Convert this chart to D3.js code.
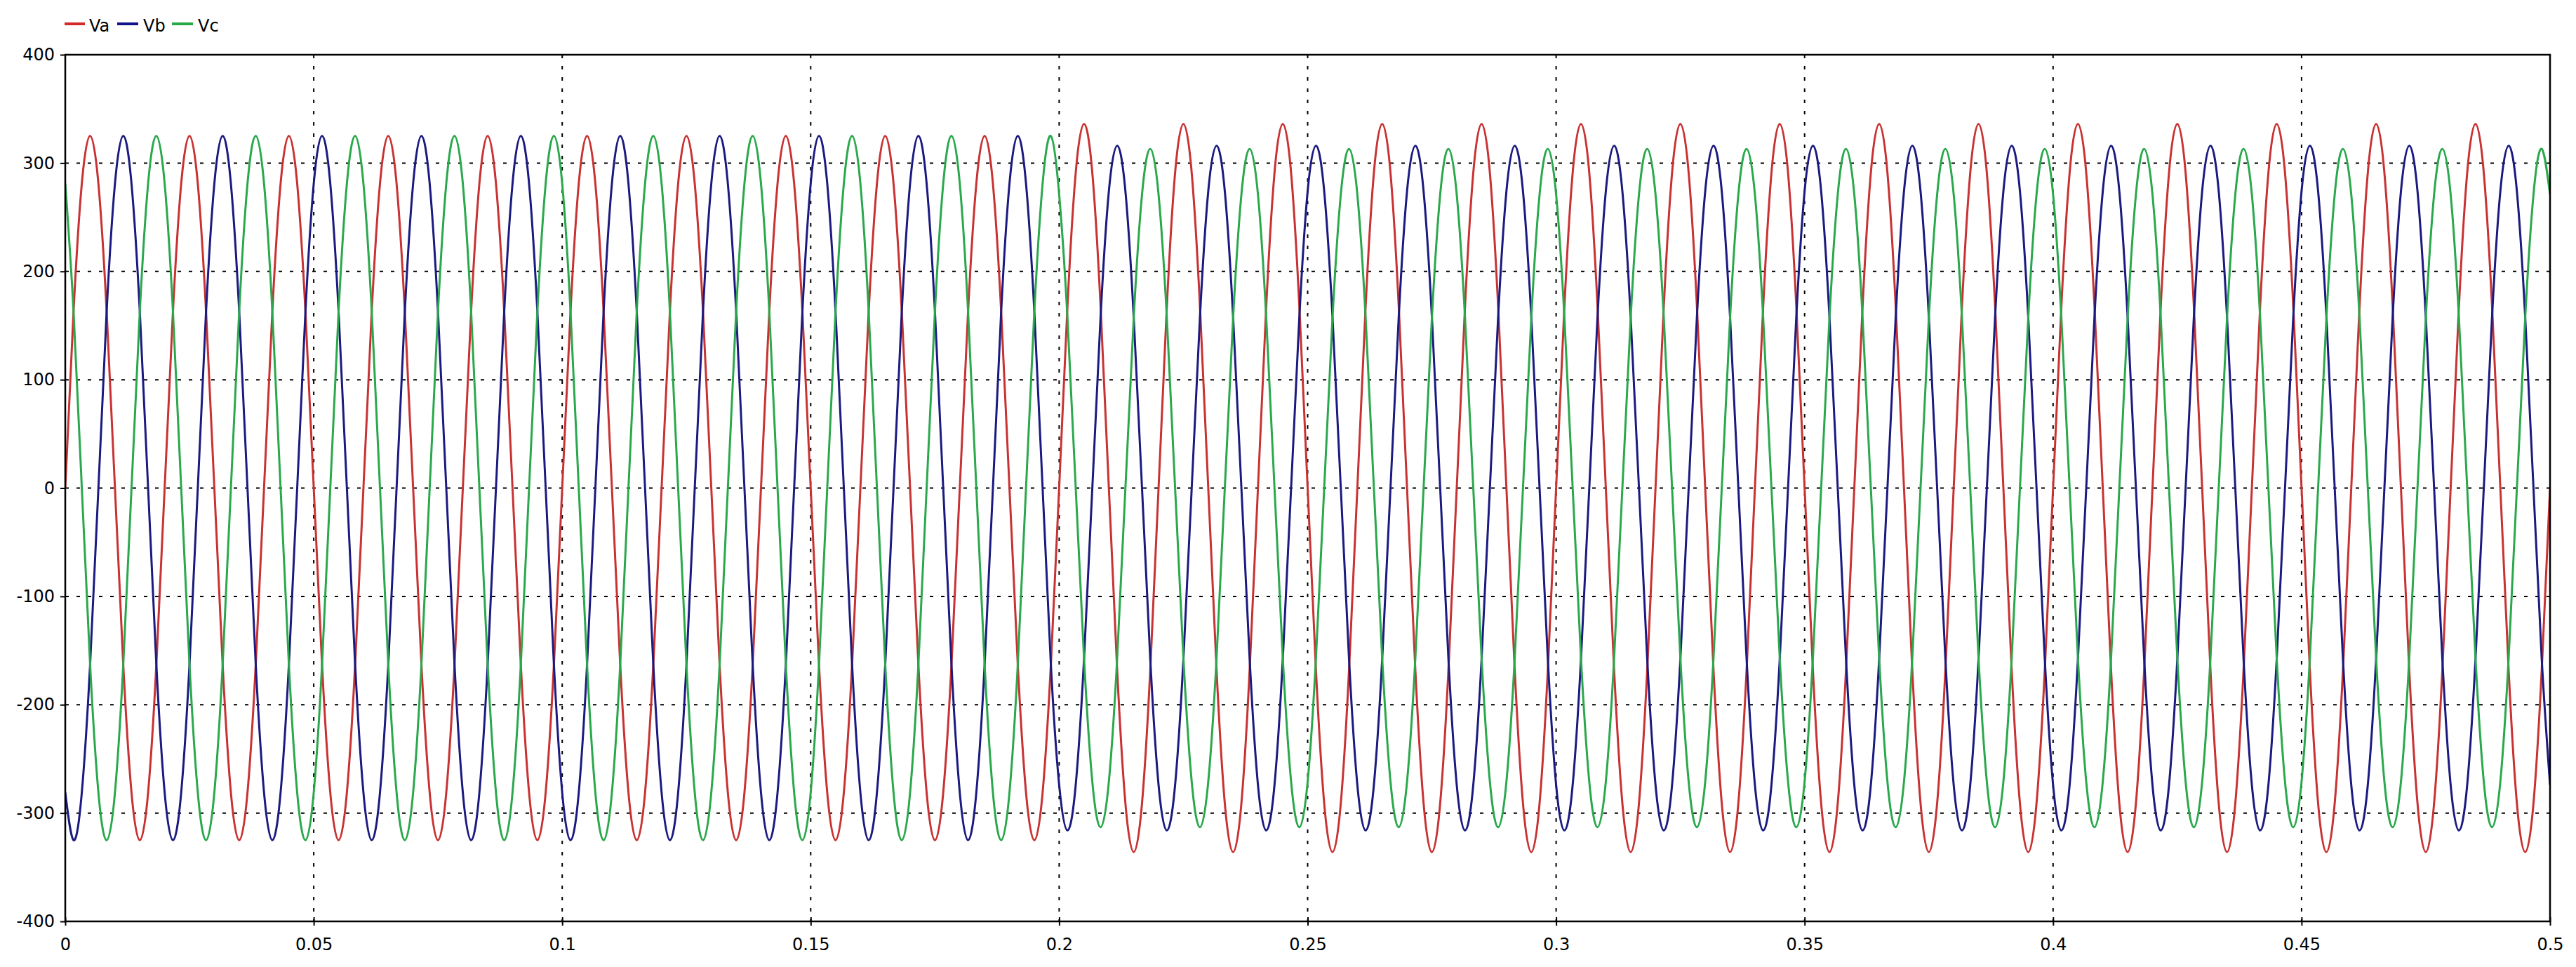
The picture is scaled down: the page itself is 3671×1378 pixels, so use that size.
<!DOCTYPE html>
<html>
<head>
<meta charset="utf-8">
<script src="https://cdn.jsdelivr.net/npm/d3@7"></script>
<style>
  html, body { margin: 0; padding: 0; background: #ffffff; }
  svg { display: block; }
  text { font-family: "DejaVu Sans", sans-serif; }
</style>
</head>
<body>
<svg id="chart" width="3671" height="1378"></svg>
<script>
// ---------------- DATA ----------------
const seriesNames = ["Va", "Vb", "Vc"];

// sample times (ms)
const timeMs = [
  0,1.67,3.33,5,6.67,8.33,10,11.67,13.33,15,16.67,18.33,
  20,21.67,23.33,25,26.67,28.33,30,31.67,33.33,35,36.67,38.33,
  40,41.67,43.33,45,46.67,48.33,50,51.67,53.33,55,56.67,58.33,
  60,61.67,63.33,65,66.67,68.33,70,71.67,73.33,75,76.67,78.33,
  80,81.67,83.33,85,86.67,88.33,90,91.67,93.33,95,96.67,98.33,
  100,101.67,103.33,105,106.67,108.33,110,111.67,113.33,115,116.67,118.33,
  120,121.67,123.33,125,126.67,128.33,130,131.67,133.33,135,136.67,138.33,
  140,141.67,143.33,145,146.67,148.33,150,151.67,153.33,155,156.67,158.33,
  160,161.67,163.33,165,166.67,168.33,170,171.67,173.33,175,176.67,178.33,
  180,181.67,183.33,185,186.67,188.33,190,191.67,193.33,195,196.67,198.33,
  200,201.67,203.33,205,206.67,208.33,210,211.67,213.33,215,216.67,218.33,
  220,221.67,223.33,225,226.67,228.33,230,231.67,233.33,235,236.67,238.33,
  240,241.67,243.33,245,246.67,248.33,250,251.67,253.33,255,256.67,258.33,
  260,261.67,263.33,265,266.67,268.33,270,271.67,273.33,275,276.67,278.33,
  280,281.67,283.33,285,286.67,288.33,290,291.67,293.33,295,296.67,298.33,
  300,301.67,303.33,305,306.67,308.33,310,311.67,313.33,315,316.67,318.33,
  320,321.67,323.33,325,326.67,328.33,330,331.67,333.33,335,336.67,338.33,
  340,341.67,343.33,345,346.67,348.33,350,351.67,353.33,355,356.67,358.33,
  360,361.67,363.33,365,366.67,368.33,370,371.67,373.33,375,376.67,378.33,
  380,381.67,383.33,385,386.67,388.33,390,391.67,393.33,395,396.67,398.33,
  400,401.67,403.33,405,406.67,408.33,410,411.67,413.33,415,416.67,418.33,
  420,421.67,423.33,425,426.67,428.33,430,431.67,433.33,435,436.67,438.33,
  440,441.67,443.33,445,446.67,448.33,450,451.67,453.33,455,456.67,458.33,
  460,461.67,463.33,465,466.67,468.33,470,471.67,473.33,475,476.67,478.33,
  480,481.67,483.33,485,486.67,488.33,490,491.67,493.33,495,496.67,498.33,
  500
];

const va = [
  0,163,281,325,281,163,0,-163,-281,-325,-281,-163,
  0,163,281,325,281,163,0,-163,-281,-325,-281,-163,
  0,163,281,325,281,163,0,-163,-281,-325,-281,-163,
  0,163,281,325,281,163,0,-163,-281,-325,-281,-163,
  0,163,281,325,281,163,0,-163,-281,-325,-281,-163,
  0,163,281,325,281,163,0,-163,-281,-325,-281,-163,
  0,163,281,325,281,163,0,-163,-281,-325,-281,-163,
  0,163,281,325,281,163,0,-163,-281,-325,-281,-163,
  0,163,281,325,281,163,0,-163,-281,-325,-281,-163,
  0,163,281,325,281,163,0,-163,-281,-325,-281,-163,
  0,168,291,336,291,168,0,-168,-291,-336,-291,-168,
  0,168,291,336,291,168,0,-168,-291,-336,-291,-168,
  0,168,291,336,291,168,0,-168,-291,-336,-291,-168,
  0,168,291,336,291,168,0,-168,-291,-336,-291,-168,
  0,168,291,336,291,168,0,-168,-291,-336,-291,-168,
  0,168,291,336,291,168,0,-168,-291,-336,-291,-168,
  0,168,291,336,291,168,0,-168,-291,-336,-291,-168,
  0,168,291,336,291,168,0,-168,-291,-336,-291,-168,
  0,168,291,336,291,168,0,-168,-291,-336,-291,-168,
  0,168,291,336,291,168,0,-168,-291,-336,-291,-168,
  0,168,291,336,291,168,0,-168,-291,-336,-291,-168,
  0,168,291,336,291,168,0,-168,-291,-336,-291,-168,
  0,168,291,336,291,168,0,-168,-291,-336,-291,-168,
  0,168,291,336,291,168,0,-168,-291,-336,-291,-168,
  0,168,291,336,291,168,0,-168,-291,-336,-291,-168,
  0
];

const vb = [
  -281,-325,-281,-163,0,163,281,325,281,163,0,-163,
  -281,-325,-281,-163,0,163,281,325,281,163,0,-163,
  -281,-325,-281,-163,0,163,281,325,281,163,0,-163,
  -281,-325,-281,-163,0,163,281,325,281,163,0,-163,
  -281,-325,-281,-163,0,163,281,325,281,163,0,-163,
  -281,-325,-281,-163,0,163,281,325,281,163,0,-163,
  -281,-325,-281,-163,0,163,281,325,281,163,0,-163,
  -281,-325,-281,-163,0,163,281,325,281,163,0,-163,
  -281,-325,-281,-163,0,163,281,325,281,163,0,-163,
  -281,-325,-281,-163,0,163,281,325,281,163,0,-163,
  -274,-316,-274,-158,0,158,274,316,274,158,0,-158,
  -274,-316,-274,-158,0,158,274,316,274,158,0,-158,
  -274,-316,-274,-158,0,158,274,316,274,158,0,-158,
  -274,-316,-274,-158,0,158,274,316,274,158,0,-158,
  -274,-316,-274,-158,0,158,274,316,274,158,0,-158,
  -274,-316,-274,-158,0,158,274,316,274,158,0,-158,
  -274,-316,-274,-158,0,158,274,316,274,158,0,-158,
  -274,-316,-274,-158,0,158,274,316,274,158,0,-158,
  -274,-316,-274,-158,0,158,274,316,274,158,0,-158,
  -274,-316,-274,-158,0,158,274,316,274,158,0,-158,
  -274,-316,-274,-158,0,158,274,316,274,158,0,-158,
  -274,-316,-274,-158,0,158,274,316,274,158,0,-158,
  -274,-316,-274,-158,0,158,274,316,274,158,0,-158,
  -274,-316,-274,-158,0,158,274,316,274,158,0,-158,
  -274,-316,-274,-158,0,158,274,316,274,158,0,-158,
  -274
];

const vc = [
  281,163,0,-163,-281,-325,-281,-163,0,163,281,325,
  281,163,0,-163,-281,-325,-281,-163,0,163,281,325,
  281,163,0,-163,-281,-325,-281,-163,0,163,281,325,
  281,163,0,-163,-281,-325,-281,-163,0,163,281,325,
  281,163,0,-163,-281,-325,-281,-163,0,163,281,325,
  281,163,0,-163,-281,-325,-281,-163,0,163,281,325,
  281,163,0,-163,-281,-325,-281,-163,0,163,281,325,
  281,163,0,-163,-281,-325,-281,-163,0,163,281,325,
  281,163,0,-163,-281,-325,-281,-163,0,163,281,325,
  281,163,0,-163,-281,-325,-281,-163,0,163,281,325,
  271,157,0,-157,-271,-313,-271,-157,0,157,271,313,
  271,157,0,-157,-271,-313,-271,-157,0,157,271,313,
  271,157,0,-157,-271,-313,-271,-157,0,157,271,313,
  271,157,0,-157,-271,-313,-271,-157,0,157,271,313,
  271,157,0,-157,-271,-313,-271,-157,0,157,271,313,
  271,157,0,-157,-271,-313,-271,-157,0,157,271,313,
  271,157,0,-157,-271,-313,-271,-157,0,157,271,313,
  271,157,0,-157,-271,-313,-271,-157,0,157,271,313,
  271,157,0,-157,-271,-313,-271,-157,0,157,271,313,
  271,157,0,-157,-271,-313,-271,-157,0,157,271,313,
  271,157,0,-157,-271,-313,-271,-157,0,157,271,313,
  271,157,0,-157,-271,-313,-271,-157,0,157,271,313,
  271,157,0,-157,-271,-313,-271,-157,0,157,271,313,
  271,157,0,-157,-271,-313,-271,-157,0,157,271,313,
  271,157,0,-157,-271,-313,-271,-157,0,157,271,313,
  271
];

const xTicks = [0, 0.05, 0.1, 0.15, 0.2, 0.25, 0.3, 0.35, 0.4, 0.45, 0.5];
const xTickLabels = ["0", "0.05", "0.1", "0.15", "0.2", "0.25", "0.3", "0.35", "0.4", "0.45", "0.5"];
const yTicks = [400, 300, 200, 100, 0, -100, -200, -300, -400];
const yTickLabels = ["400", "300", "200", "100", "0", "-100", "-200", "-300", "-400"];

// ---------------- STYLE ----------------
const lineColors = ["#c83232", "#1a1a80", "#2aa84c"];
const legendColors = ["#d42a2a", "#12128c", "#25aa45"];

// ---------------- LAYOUT ----------------
const plot = { left: 93, right: 3634, top: 78, bottom: 1313 };

const svg = d3.select("#chart");
svg.append("rect").attr("width", 3671).attr("height", 1378).attr("fill", "#ffffff");

const x = d3.scaleLinear().domain([0, 0.5]).range([plot.left, plot.right]);
const y = d3.scaleLinear().domain([-400, 400]).range([plot.bottom, plot.top]);

// grid lines
const grid = svg.append("g");
grid.selectAll("line.hg")
  .data(yTicks.filter(v => v > -400 && v < 400))
  .join("line")
  .attr("x1", plot.left).attr("x2", plot.right)
  .attr("y1", d => y(d)).attr("y2", d => y(d))
  .attr("stroke", "#000").attr("stroke-width", 2)
  .attr("stroke-dasharray", "5,11");
grid.selectAll("line.vg")
  .data(xTicks.filter(v => v > 0 && v < 0.5))
  .join("line")
  .attr("x1", d => x(d)).attr("x2", d => x(d))
  .attr("y1", plot.top).attr("y2", plot.bottom)
  .attr("stroke", "#000").attr("stroke-width", 2)
  .attr("stroke-dasharray", "5,11");

// clip
svg.append("defs").append("clipPath").attr("id", "clip")
  .append("rect")
  .attr("x", plot.left).attr("y", plot.top)
  .attr("width", plot.right - plot.left).attr("height", plot.bottom - plot.top);

const series = [va, vb, vc];
const lineGen = d3.line()
  .x(d => x(d[0] / 1000))
  .y(d => y(d[1]))
  .curve(d3.curveNatural);

const lines = svg.append("g").attr("clip-path", "url(#clip)");
series.forEach((vals, i) => {
  const pts = timeMs.map((t, j) => [t, vals[j]]);
  lines.append("path")
    .datum(pts)
    .attr("fill", "none")
    .attr("stroke", lineColors[i])
    .attr("stroke-width", 3)
    .attr("stroke-linejoin", "round")
    .attr("d", lineGen);
});

// frame
svg.append("rect")
  .attr("x", plot.left).attr("y", plot.top)
  .attr("width", plot.right - plot.left).attr("height", plot.bottom - plot.top)
  .attr("fill", "none").attr("stroke", "#000").attr("stroke-width", 2.5);

// axes
const yAxis = d3.axisLeft(y)
  .tickValues(yTicks)
  .tickSize(7)
  .tickPadding(8)
  .tickFormat((d, i) => yTickLabels[i]);
const gy = svg.append("g").attr("transform", `translate(${plot.left},0)`).call(yAxis);
gy.select(".domain").remove();
gy.selectAll(".tick line").attr("stroke", "#000").attr("stroke-width", 2);
gy.selectAll(".tick text")
  .attr("font-family", "DejaVu Sans, sans-serif")
  .attr("font-size", 24).attr("fill", "#000");

const xAxis = d3.axisBottom(x)
  .tickValues(xTicks)
  .tickSize(6)
  .tickPadding(18)
  .tickFormat((d, i) => xTickLabels[i]);
const gx = svg.append("g").attr("transform", `translate(0,${plot.bottom})`).call(xAxis);
gx.select(".domain").remove();
gx.selectAll(".tick line").attr("y1", -6).attr("y2", 6).attr("stroke", "#000").attr("stroke-width", 2);
gx.selectAll(".tick text")
  .attr("font-family", "DejaVu Sans, sans-serif")
  .attr("font-size", 24).attr("fill", "#000");

// legend
const legendItems = [
  { name: seriesNames[0], x1: 92, x2: 121, tx: 127 },
  { name: seriesNames[1], x1: 167, x2: 197, tx: 204 },
  { name: seriesNames[2], x1: 245, x2: 275, tx: 282 }
];
const lg = svg.append("g");
legendItems.forEach((it, i) => {
  lg.append("line")
    .attr("x1", it.x1).attr("x2", it.x2)
    .attr("y1", 34).attr("y2", 34)
    .attr("stroke", legendColors[i]).attr("stroke-width", 4);
  lg.append("text")
    .attr("x", it.tx).attr("y", 45)
    .attr("font-size", 24).attr("fill", "#000")
    .text(it.name);
});
</script>
</body>
</html>
